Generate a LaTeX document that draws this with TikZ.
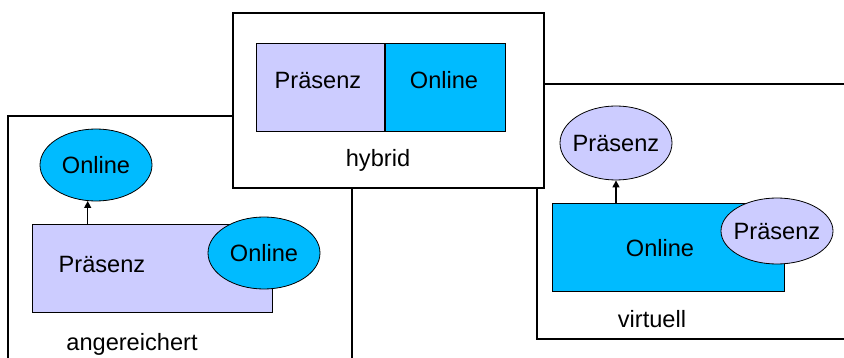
\documentclass[tikz,border=0pt]{standalone}
\usepackage{fontspec}
\setmainfont{Liberation Sans}
\usetikzlibrary{arrows.meta,shapes.geometric,positioning}
\definecolor{praesenz}{RGB}{204,204,255}
\definecolor{online}{RGB}{0,187,255}
\tikzset{
  frame/.style={draw=black, line width=1.1pt},
  block/.style={draw=black, line width=1pt, inner sep=0pt},
  blob/.style={ellipse, draw=black, line width=0.8pt, inner sep=0pt,
    minimum width=112pt},
  lbl/.style={font=\fontsize{23.6}{28}\selectfont, inner sep=0pt},
  arr/.style={-{Triangle[length=7pt,width=7pt]}, line width=1.4pt},
}
\begin{document}
\begin{tikzpicture}[x=1pt,y=-1pt]
    \useasboundingbox (0,0) rectangle (844,358);
    % outer frames, cut by the page
    \begin{scope}
        \clip (0,0) rectangle (844,358);
        \draw[frame] (8,370) -- (8,116) -- (352,116) -- (352,370);
        \draw[frame] (860,84) -- (537,84) -- (537,339) -- (860,339);
    \end{scope}

    % angereichert
    \node[block, fill=praesenz, minimum width=240pt, minimum height=88pt] (angP) at (152,269) {};
    \node[lbl] at (102,264) {Präsenz};
    \node[blob, fill=online, minimum height=72pt, label={[lbl]center:Online}] (angIn) at (264,253) {};
    \node[blob, fill=online, minimum height=72pt, label={[lbl]center:Online}] (angTop) at (96,165) {};
    \draw[arr] (angP.north -| angTop.257) -- (angTop.257);
    \node[lbl] (angLbl) at (132,344) {angereichert};

    % virtuell
    \node[block, fill=online, minimum width=232pt, minimum height=88pt] (virO) at (668,248) {};
    \node[lbl] at (660,248) {Online};
    \node[blob, fill=praesenz, minimum height=66pt, label={[lbl]center:Präsenz}] (virIn) at (777,231) {};
    \node[blob, fill=praesenz, minimum height=74pt, label={[lbl]center:Präsenz}] (virTop) at (616,143) {};
    \draw[arr] (virO.north -| virTop.south) -- (virTop.south);
    \node[lbl] (virLbl) at (652,319) {virtuell};

    % hybrid
    \draw[frame, fill=white] (233,13) rectangle (544,188);
    \node[block, fill=praesenz, minimum width=128pt, minimum height=88pt] (hybP) at (320,88) {};
    \node[block, fill=online, minimum width=120pt, minimum height=88pt, right=0pt of hybP] (hybO) {};
    \node[lbl] at (318,80) {Präsenz};
    \node[lbl] at (444,80) {Online};
    \node[lbl] (hybLbl) at (378,160) {hybrid};
\end{tikzpicture}
\end{document}
